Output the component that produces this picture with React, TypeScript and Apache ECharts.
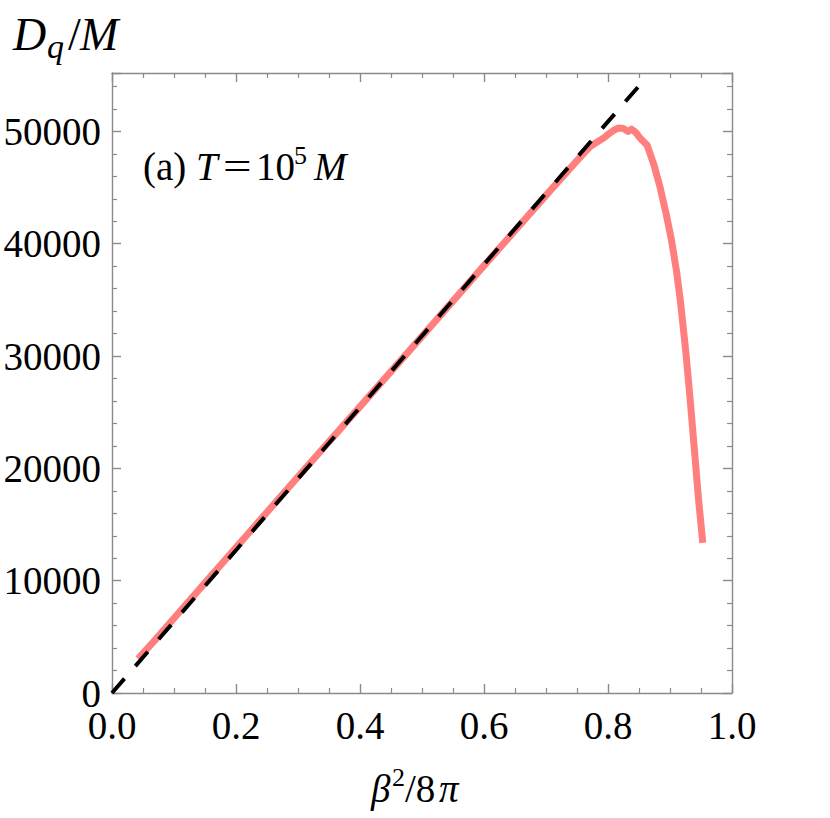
import React, { useEffect, useRef } from "react";
import * as echarts from "echarts";

// beta^2 / 8pi values and D_q/M values of the simulated curve (pink)
const betaRatio = [
  0.042, 0.07, 0.1, 0.15, 0.2, 0.3, 0.4, 0.5, 0.6, 0.7, 0.75, 0.771, 0.7925,
  0.803, 0.811, 0.817, 0.825, 0.832, 0.838, 0.845, 0.852, 0.8629, 0.8742,
  0.8839, 0.8935, 0.9024, 0.9102, 0.9166, 0.9252, 0.9326, 0.9394, 0.9461,
  0.9529,
];
const dqOverM = [
  3050, 4750, 6650, 9800, 12950, 19250, 25500, 31750, 38050, 44300, 47400,
  48650, 49400, 49850, 50150, 50300, 50250, 50000, 50200, 49900, 49390, 48800,
  47010, 45050, 42730, 40330, 37660, 34990, 30540, 26090, 21640, 17190, 13360,
];

// reference (dashed) straight line
const refX = [0, 0.8484];
const refY = [0, 53950];

// axes
const xMin = 0;
const xMax = 1;
const xStep = 0.2;
const yMin = 0;
const yMax = 55200;
const yStep = 10000;

const FONT = "'Liberation Serif', 'Times New Roman', serif";
const AXIS_COLOR = "#8a8a8a";

function txt(text: string, x: number, baseline: number, fs: number, italic: boolean, scaleX = 1) {
  return {
    type: "text",
    x,
    y: baseline - 0.3375 * fs,
    scaleX,
    silent: true,
    style: {
      text,
      fontSize: fs,
      fontFamily: FONT,
      fontStyle: italic ? "italic" : "normal",
      fill: "#000",
      align: "left",
      verticalAlign: "middle",
    },
  };
}

export default function App() {
  const ref = useRef<HTMLDivElement>(null);
  useEffect(() => {
    const chart = echarts.init(ref.current!, null, { renderer: "svg" });
    const lineCommon = {
      splitLine: { show: false },
      axisLine: { show: true, onZero: false, lineStyle: { color: AXIS_COLOR, width: 1.4 } },
      axisTick: { show: true, inside: true, length: 9, lineStyle: { color: AXIS_COLOR, width: 1.4 } },
    };
    const xCommon = {
      type: "value",
      min: xMin,
      max: xMax,
      interval: xStep,
      ...lineCommon,
      minorTick: { show: true, splitNumber: 4, length: 5, lineStyle: { color: AXIS_COLOR, width: 1.2 } },
    };
    const yCommon = {
      type: "value",
      min: yMin,
      max: yMax,
      interval: yStep,
      ...lineCommon,
      minorTick: { show: true, splitNumber: 5, length: 5, lineStyle: { color: AXIS_COLOR, width: 1.2 } },
    };
    chart.setOption({
      animation: false,
      backgroundColor: "#fff",
      grid: { left: 112, top: 73, width: 620, height: 620, containLabel: false },
      xAxis: [
        {
          ...xCommon,
          position: "bottom",
          axisLabel: {
            show: true,
            margin: 18,
            fontSize: 39,
            lineHeight: 28,
            fontFamily: FONT,
            color: "#000",
            formatter: (v: number) => v.toFixed(1),
          },
        },
        {
          ...xCommon,
          position: "top",
          axisLabel: { show: false },
        },
      ],
      yAxis: [
        {
          ...yCommon,
          position: "left",
          axisLabel: {
            show: true,
            margin: 11,
            fontSize: 39,
            lineHeight: 28,
            fontFamily: FONT,
            color: "#000",
            showMaxLabel: false,
            formatter: (v: number) => (Math.abs(v % yStep) < 1e-6 ? String(v) : ""),
          },
        },
        {
          ...yCommon,
          position: "right",
          axisLabel: { show: false },
        },
      ],
      series: [
        {
          type: "line",
          xAxisIndex: 0,
          yAxisIndex: 0,
          data: betaRatio.map((x, i) => [x, dqOverM[i]]),
          showSymbol: false,
          symbol: "none",
          smooth: false,
          lineStyle: { color: "#ff7f7f", width: 7, join: "round", cap: "butt" },
          z: 2,
        },
        {
          type: "line",
          xAxisIndex: 0,
          yAxisIndex: 0,
          data: refX.map((x, i) => [x, refY[i]]),
          showSymbol: false,
          symbol: "none",
          lineStyle: { color: "#000", width: 4, type: [19, 16.6], cap: "butt" },
          z: 3,
        },
      ],
      graphic: [
        // D_q / M
        txt("D", 13, 50, 46, true),
        txt("q", 47, 58, 34, true),
        txt("/", 68, 50, 46, false),
        txt("M", 80, 50, 46, true),
        // (a) T=10^5 M
        txt("(a)", 143, 180, 39, false),
        txt("T", 196, 180, 39, true),
        txt("=", 223, 180, 39, false, 1.3),
        txt("10", 256, 180, 39, false),
        txt("5", 294, 164, 26, false),
        txt("M", 314, 180, 39, true),
        // beta^2 / 8 pi
        txt("β", 371, 802, 39, true),
        txt("2", 392, 786, 26, false),
        txt("/8", 405, 802, 39, false),
        txt("π", 439, 802, 39, true),
      ],
    });
    return () => chart.dispose();
  }, []);
  return (
    <div
      ref={ref}
      style={{ position: "absolute", left: 0, top: 0, width: 830, height: 818 }}
    />
  );
}
